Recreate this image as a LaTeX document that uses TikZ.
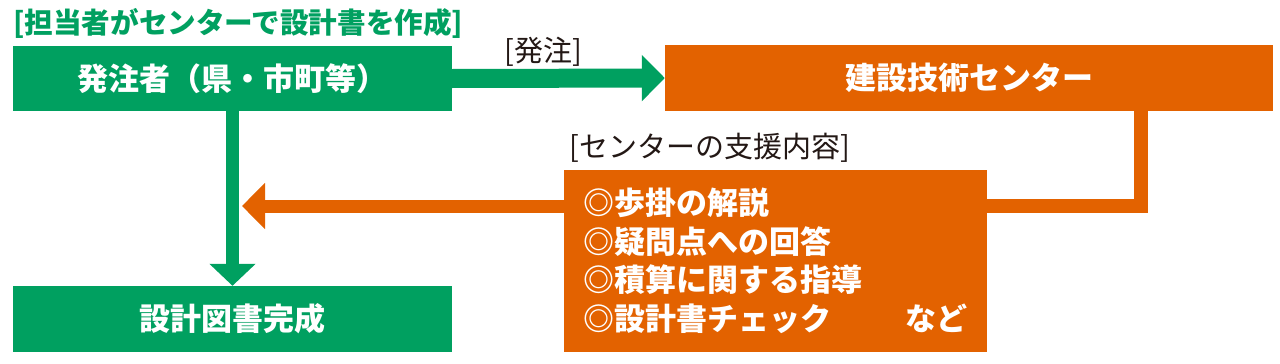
\documentclass[tikz,border=0pt]{standalone}
\usepackage{fontspec}
\setmainfont{Noto Sans CJK JP}
\usepackage{tikz}
\usetikzlibrary{arrows.meta}

\definecolor{kgreen}{RGB}{0,160,96}
\definecolor{korange}{RGB}{227,98,0}
\definecolor{kdark}{RGB}{35,24,21}

\begin{document}
\begin{tikzpicture}[x=1pt, y=-1pt,
    every node/.style={anchor=center, inner sep=0pt},
    gbox/.style={fill=kgreen, text=white, font=\bfseries\fontsize{31}{37}\selectfont},
    obox/.style={fill=korange, text=white, font=\bfseries\fontsize{31}{37}\selectfont},
    gbar/.style={draw=kgreen, line width=13pt, -{Triangle[width=45pt,length=22pt]}},
    obar/.style={draw=korange, line width=14pt},
    note/.style={text=kdark, font=\fontsize{29}{34}\selectfont}]
    \useasboundingbox (0,0) rectangle (1280,364);
    % title
    \node[anchor=west, text=kgreen, font=\bfseries\fontsize{28.6}{33}\selectfont] (title) at (13,23)
        {[担当者がセンターで設計書を作成]};
    % boxes
    \node[gbox, minimum width=439pt, minimum height=65pt] (hatchu) at (232.5,78.5) {発注者（県・市町等）};
    \node[gbox, minimum width=439pt, minimum height=66pt] (kansei) at (232.5,319) {設計図書完成};
    \node[obox, minimum width=608pt, minimum height=66pt] (center) at (969,78) {建設技術センター};
    \node[obox, minimum height=182pt, text width=384pt, inner xsep=19.5pt, align=left,
          font=\bfseries\fontsize{31}{38.5}\selectfont] (shien) at (775.5,261)
        {◎歩掛の解説\\
         ◎疑問点への回答\\
         ◎積算に関する指導\\
         ◎設計書チェック\hfill など};
    % labels
    \node[note] (lbhatchu) at (543,52) {[発注]};
    \node[note] (lbshien) at (710,148) {[センターの支援内容]};
    % connectors
    \coordinate (turn) at (1141,206);
    \coordinate (tip) at (242,206);
    \draw[gbar, line width=19pt, -{Triangle[width=45pt,length=23pt]}] (hatchu.east) -- (center.west);
    \draw[gbar] (hatchu.south) -- (kansei.north);
    \draw[obar] (center.south -| turn) -- (turn) -- (shien.east |- turn);
    \draw[obar, line width=13pt, -{Triangle[width=45pt,length=23pt]}] (shien.west |- tip) -- (tip);
\end{tikzpicture}
\end{document}
